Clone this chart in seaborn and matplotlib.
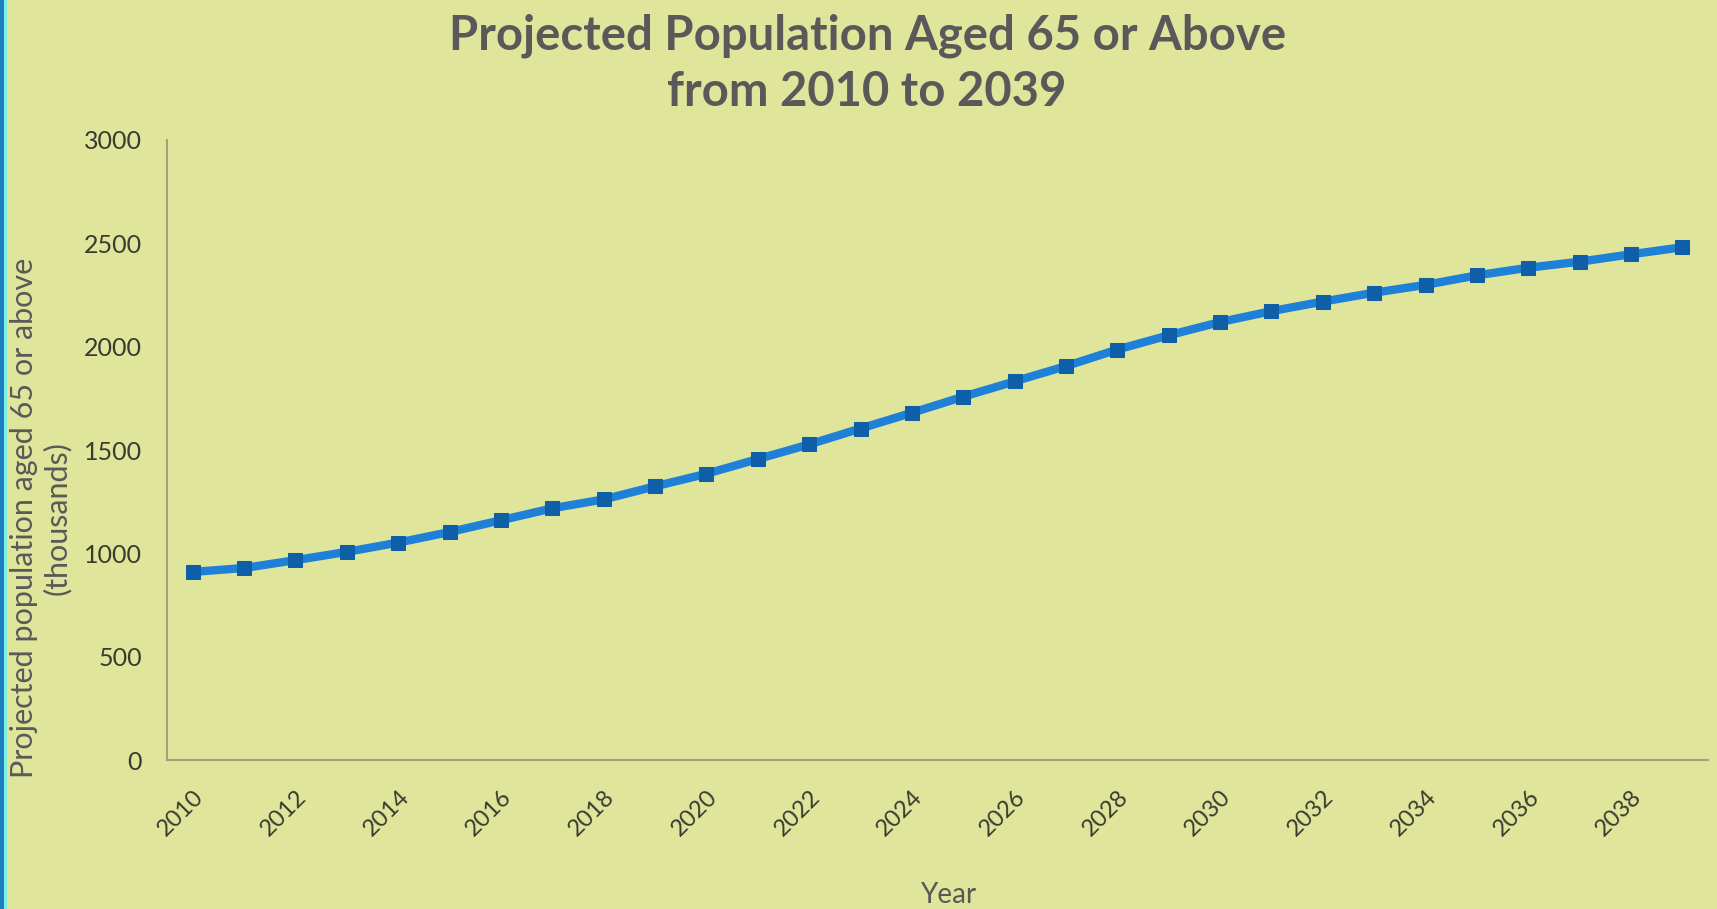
import numpy as np
import pandas as pd
import matplotlib.pyplot as plt
from matplotlib.patches import Rectangle
from matplotlib.ticker import MultipleLocator
import seaborn as sns

# Data (thousands of people aged 65+)
years = list(range(2010, 2040))
population = [910, 929, 967, 1007, 1052, 1103, 1160, 1218, 1261, 1324,
              1385, 1456, 1527, 1604, 1680, 1758, 1832, 1906, 1986, 2055,
              2119, 2172, 2218, 2261, 2299, 2345, 2382, 2411, 2447, 2481]
year_labels = [str(y) for y in years[::2]]

title_text = "Projected Population Aged 65 or Above\nfrom 2010 to 2039"
ylabel_text = "Projected population aged 65 or above\n(thousands)"
xlabel_text = "Year"

bg = "#dfe59b"
text_col = "#595959"
tick_col = "#3a3a30"
axis_col = "#a3a37a"
line_col = "#1f80d8"
marker_col = "#0f5fa8"

df = pd.DataFrame({"year": years, "population": population})

sns.set_style("white")
plt.rcParams['font.family'] = ['Lato', 'DejaVu Sans']

fig = plt.figure(figsize=(17.17, 9.09), dpi=100, facecolor=bg)
ax = fig.add_axes([0.0973, 0.1639, 0.8975, 0.6821])
ax.set_facecolor(bg)

sns.lineplot(data=df, x="year", y="population", ax=ax, color=line_col,
             linewidth=6, marker="s", markersize=10,
             markerfacecolor=marker_col, markeredgecolor=marker_col)

# Axis ranges and ticks (Excel style: ticks between categories)
ax.set_xlim(years[0] - 0.5, years[-1] + 0.5)
ax.set_ylim(0, 3000)
ax.yaxis.set_major_locator(MultipleLocator(500))
ax.set_xticks(years[::2])
ax.set_xticklabels(year_labels, rotation=45, ha="right", rotation_mode="anchor")
ax.set_xticks(np.arange(years[0] - 0.5, years[-1] + 1, 1), minor=True)

ax.tick_params(axis="x", which="major", length=0, pad=19, labelsize=17, labelcolor=tick_col)
ax.tick_params(axis="x", which="minor", length=7, width=1, direction="in", color=axis_col)
ax.tick_params(axis="y", length=7, width=1, direction="in", color=axis_col,
               pad=18, labelsize=18, labelcolor=tick_col)

for side in ["top", "right"]:
    ax.spines[side].set_visible(False)
for side in ["left", "bottom"]:
    ax.spines[side].set_color(axis_col)
    ax.spines[side].set_linewidth(1.5)

ax.set_xlabel("")
ax.set_ylabel(ylabel_text, fontsize=22, color=text_col, linespacing=1.2)
ax.yaxis.set_label_coords(-0.062, 0.39)

fig.text(0.505, 0.985, title_text, ha="center", va="top", fontsize=34,
         fontweight="bold", color=text_col, linespacing=1.32)
fig.text(0.552, 0.015, xlabel_text, ha="center", va="center", fontsize=20, color=text_col)

# Slide edge decoration on the left
fig.patches.append(Rectangle((0, 0), 4 / 1717, 1, transform=fig.transFigure,
                             facecolor="#1b7fc2", edgecolor="none"))
fig.patches.append(Rectangle((4 / 1717, 0), 3 / 1717, 1, transform=fig.transFigure,
                             facecolor="#7ff0e2", edgecolor="none"))

fig.savefig("out.png", dpi=100, facecolor=bg)
